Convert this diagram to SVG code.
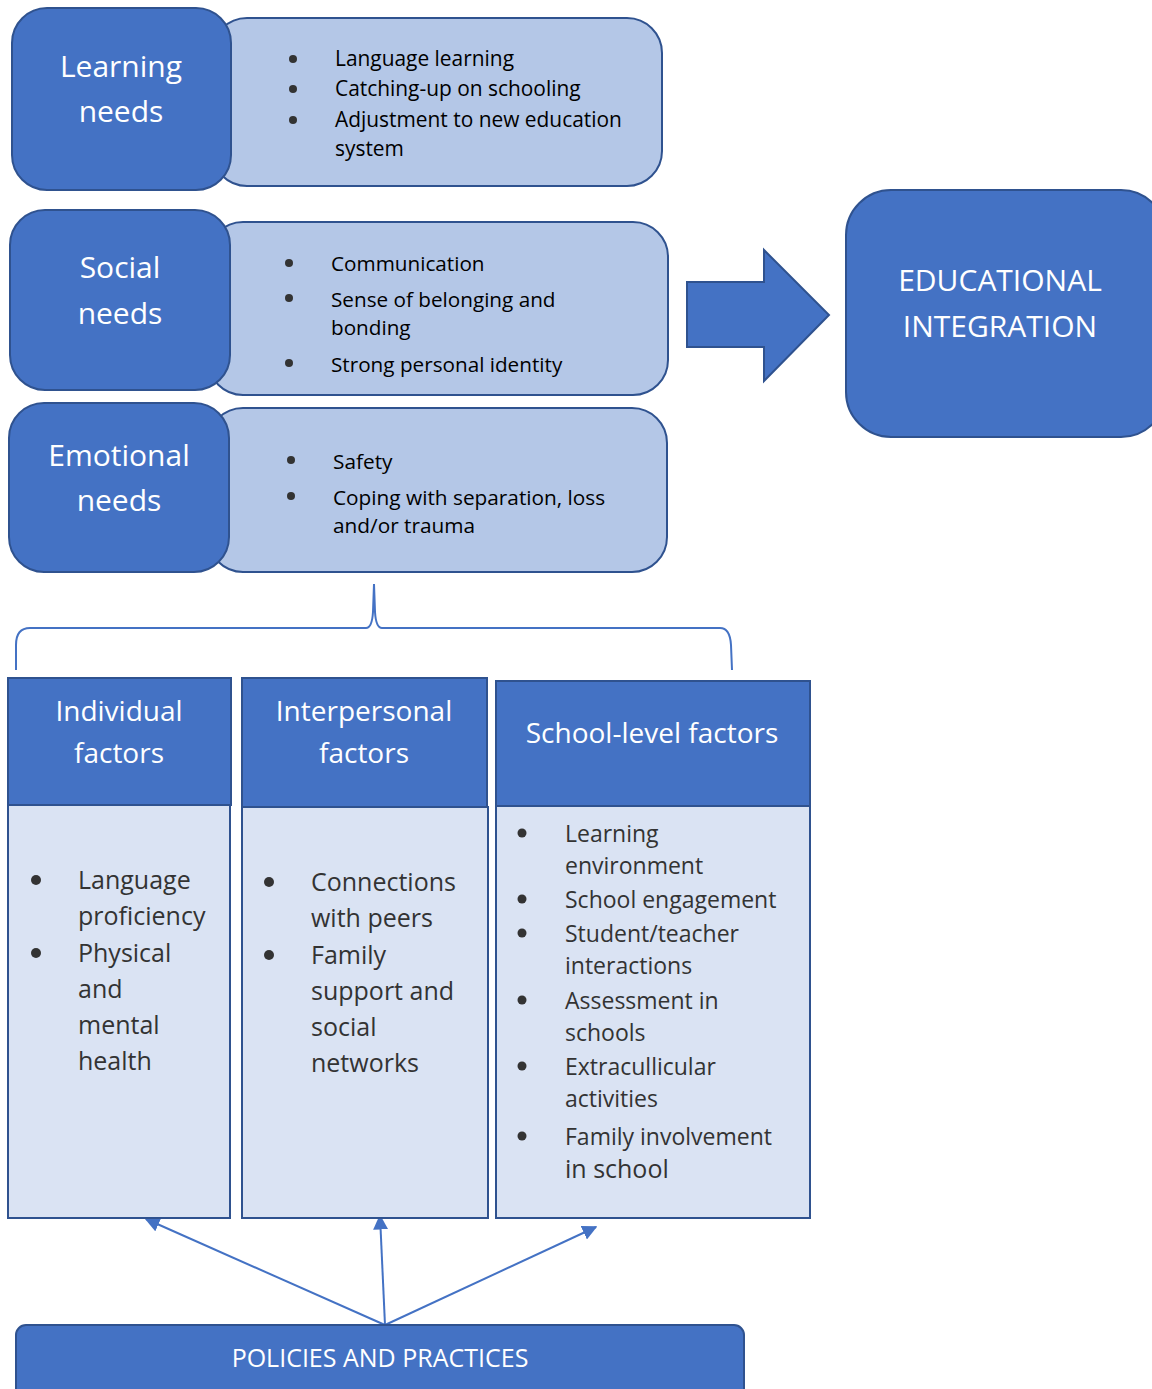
<svg xmlns="http://www.w3.org/2000/svg" width="1152" height="1389" viewBox="0 0 1152 1389">
<style>
.dark{fill:#4472C4;stroke:#2F528F;stroke-width:2}
.light{fill:#B4C7E7;stroke:#2F528F;stroke-width:2}
.pale{fill:#DAE3F3;stroke:#2F528F;stroke-width:2}
.wt{font-family:"Open Sans","Noto Sans",sans-serif;fill:#fff;text-anchor:middle}
.bt{font-family:"Open Sans","Noto Sans",sans-serif;fill:#000}
.dot{fill:#333}
.conn{stroke:#4472C4;stroke-width:2;fill:none}
</style>
<defs>
<marker id="ah" viewBox="0 0 10 10" refX="9" refY="5" markerWidth="7.5" markerHeight="7.5" orient="auto" markerUnits="strokeWidth">
<path d="M0,0 L10,5 L0,10 z" fill="#4472C4"/>
</marker>
</defs>
<rect width="1152" height="1389" fill="#fff"/>

<g id="learning">
<rect class="light" x="212" y="18" width="450" height="168" rx="35"/>
<rect class="dark" x="12" y="8" width="219" height="182" rx="35"/>
<text class="wt" font-size="30" x="121" y="77">Learning</text>
<text class="wt" font-size="30" x="121" y="122">needs</text>
<g class="bt" font-size="20.9">
<circle class="dot" cx="293" cy="59" r="4"/><text x="335" y="66">Language learning</text>
<circle class="dot" cx="293" cy="89" r="4"/><text x="335" y="96">Catching-up on schooling</text>
<circle class="dot" cx="293" cy="120" r="4"/><text x="335" y="127">Adjustment to new education</text>
<text x="335" y="156">system</text>
</g>
</g>

<g id="social">
<rect class="light" x="208" y="222" width="460" height="173" rx="35"/>
<rect class="dark" x="10" y="210" width="220" height="180" rx="35"/>
<text class="wt" font-size="30" x="120" y="278">Social</text>
<text class="wt" font-size="30" x="120" y="324">needs</text>
<g class="bt" font-size="20.7">
<circle class="dot" cx="289" cy="263" r="4"/><text x="331" y="271">Communication</text>
<circle class="dot" cx="289" cy="298" r="4"/><text x="331" y="307">Sense of belonging and</text>
<text x="331" y="335">bonding</text>
<circle class="dot" cx="289" cy="363" r="4"/><text x="331" y="372">Strong personal identity</text>
</g>
</g>

<g id="emotional">
<rect class="light" x="208" y="408" width="459" height="164" rx="35"/>
<rect class="dark" x="9" y="403" width="220" height="169" rx="35"/>
<text class="wt" font-size="30" x="119" y="466">Emotional</text>
<text class="wt" font-size="30" x="119" y="511">needs</text>
<g class="bt" font-size="20.8">
<circle class="dot" cx="291" cy="460" r="4"/><text x="333" y="469">Safety</text>
<circle class="dot" cx="291" cy="496" r="4"/><text x="333" y="505">Coping with separation, loss</text>
<text x="333" y="533">and/or trauma</text>
</g>
</g>

<g id="bigarrow">
<path class="dark" d="M687,282 L764,282 L764,250 L829,315 L764,381 L764,347 L687,347 Z"/>
</g>

<g id="integration">
<rect class="dark" x="846" y="190" width="320" height="247" rx="45"/>
<text class="wt" font-size="30" x="1000" y="291">EDUCATIONAL</text>
<text class="wt" font-size="30" x="1000" y="337">INTEGRATION</text>
</g>

<g id="connectors">
<path class="conn" d="M16,670 L16,645 Q16,628 30,628 L366,628 Q372,628 373,612 L374,584 L375,612 Q376,628 382,628 L720,628 Q730,628 731,645 L732,670"/>
<line class="conn" x1="385" y1="1325" x2="146" y2="1219" marker-end="url(#ah)"/>
<line class="conn" x1="385" y1="1325" x2="380" y2="1216" marker-end="url(#ah)"/>
<line class="conn" x1="385" y1="1325" x2="596" y2="1227" marker-end="url(#ah)"/>
</g>

<g id="individual">
<rect class="pale" x="8" y="805" width="222" height="413"/>
<rect class="dark" x="8" y="678" width="223" height="127"/>
<text class="wt" font-size="28" x="119" y="721">Individual</text>
<text class="wt" font-size="28" x="119" y="763">factors</text>
<g class="bt" font-size="25">
<circle class="dot" cx="36" cy="880" r="5"/>
<text x="78" y="889" fill="#333">Language</text>
<text x="78" y="925" fill="#333">proficiency</text>
<circle class="dot" cx="36" cy="953" r="5"/>
<text x="78" y="962" fill="#333">Physical</text>
<text x="78" y="998" fill="#333">and</text>
<text x="78" y="1034" fill="#333">mental</text>
<text x="78" y="1070" fill="#333">health</text>
</g>
</g>

<g id="interpersonal">
<rect class="pale" x="242" y="807" width="246" height="411"/>
<rect class="dark" x="242" y="678" width="245" height="129"/>
<text class="wt" font-size="28" x="364" y="721">Interpersonal</text>
<text class="wt" font-size="28" x="364" y="763">factors</text>
<g class="bt" font-size="25">
<circle class="dot" cx="269" cy="882" r="5"/>
<text x="311" y="891" fill="#333">Connections</text>
<text x="311" y="927" fill="#333">with peers</text>
<circle class="dot" cx="269" cy="955" r="5"/>
<text x="311" y="964" fill="#333">Family</text>
<text x="311" y="1000" fill="#333">support and</text>
<text x="311" y="1036" fill="#333">social</text>
<text x="311" y="1072" fill="#333">networks</text>
</g>
</g>

<g id="school">
<rect class="pale" x="496" y="806" width="314" height="412"/>
<rect class="dark" x="496" y="681" width="314" height="125"/>
<text class="wt" font-size="28" x="652" y="743">School-level factors</text>
<g class="bt" font-size="23">
<circle class="dot" cx="522" cy="833" r="4.5"/>
<text x="565" y="842" fill="#333">Learning</text>
<text x="565" y="874" fill="#333">environment</text>
<circle class="dot" cx="522" cy="899" r="4.5"/>
<text x="565" y="908" fill="#333">School engagement</text>
<circle class="dot" cx="522" cy="933" r="4.5"/>
<text x="565" y="942" fill="#333">Student/teacher</text>
<text x="565" y="974" fill="#333">interactions</text>
<circle class="dot" cx="522" cy="1000" r="4.5"/>
<text x="565" y="1009" fill="#333">Assessment in</text>
<text x="565" y="1041" fill="#333">schools</text>
<circle class="dot" cx="522" cy="1066" r="4.5"/>
<text x="565" y="1075" fill="#333">Extracullicular</text>
<text x="565" y="1107" fill="#333">activities</text>
<circle class="dot" cx="522" cy="1136" r="4.5"/>
<text x="565" y="1145" fill="#333">Family involvement</text>
<text x="565" y="1178" fill="#333" font-size="25">in school</text>
</g>
</g>

<g id="policies">
<rect class="dark" x="16" y="1325" width="728" height="80" rx="10"/>
<text class="wt" font-size="25" x="380" y="1367">POLICIES AND PRACTICES</text>
</g>
</svg>
